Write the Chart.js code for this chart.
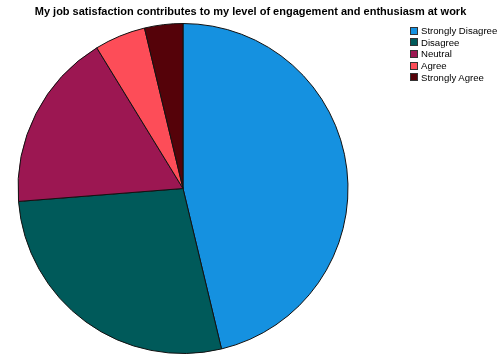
<!DOCTYPE html>
<html>
<head>
<meta charset="utf-8">
<script src="https://cdn.jsdelivr.net/npm/chart.js@4"></script>
<style>
  body { margin: 0; background: #fff; }
  #wrap { position: relative; width: 501px; height: 354px; }
  #title {
    position: absolute; left: 0; top: 5px; width: 501px; text-align: center;
    font: bold 11px "Liberation Sans", Arial, sans-serif; color: #000;
  }
  #legend {
    position: absolute; left: 410px; top: 25px;
    font: 9.6px "Liberation Sans", Arial, sans-serif; color: #000;
  }
  .item { display: flex; align-items: center; height: 11.6px; }
  .box { width: 8px; height: 8px; border: 1px solid #333; margin-right: 3px; box-sizing: border-box; }
</style>
</head>
<body>
<div id="wrap">
  <canvas id="chart" width="501" height="354"></canvas>
  <div id="title"></div>
  <div id="legend"></div>
</div>
<script>
// Survey responses
const titleText = 'My job satisfaction contributes to my level of engagement and enthusiasm at work';
const categories = ['Strongly Disagree', 'Disagree', 'Neutral', 'Agree', 'Strongly Agree'];
const counts = [37, 22, 14, 4, 3];
const sliceColors = ['#1591e0', '#005a5a', '#9c1752', '#fd4d58', '#550209'];

document.getElementById('title').textContent = titleText;

// Legend built by hand so it can sit in the top right corner
const legend = document.getElementById('legend');
categories.forEach((label, i) => {
    const row = document.createElement('div');
    row.className = 'item';
    const box = document.createElement('span');
    box.className = 'box';
    box.style.background = sliceColors[i];
    row.appendChild(box);
    row.appendChild(document.createTextNode(label));
    legend.appendChild(row);
});

new Chart(document.getElementById('chart'), {
    type: 'pie',
    data: {
        labels: categories,
        datasets: [{
            data: counts,
            backgroundColor: sliceColors,
            borderColor: '#111',
            borderWidth: 1
        }]
    },
    options: {
        responsive: false,
        animation: false,
        layout: {
            padding: { left: 17, right: 152, top: 23, bottom: 0 }
        },
        plugins: {
            legend: { display: false },
            tooltip: { enabled: false }
        }
    }
});
</script>
</body>
</html>
